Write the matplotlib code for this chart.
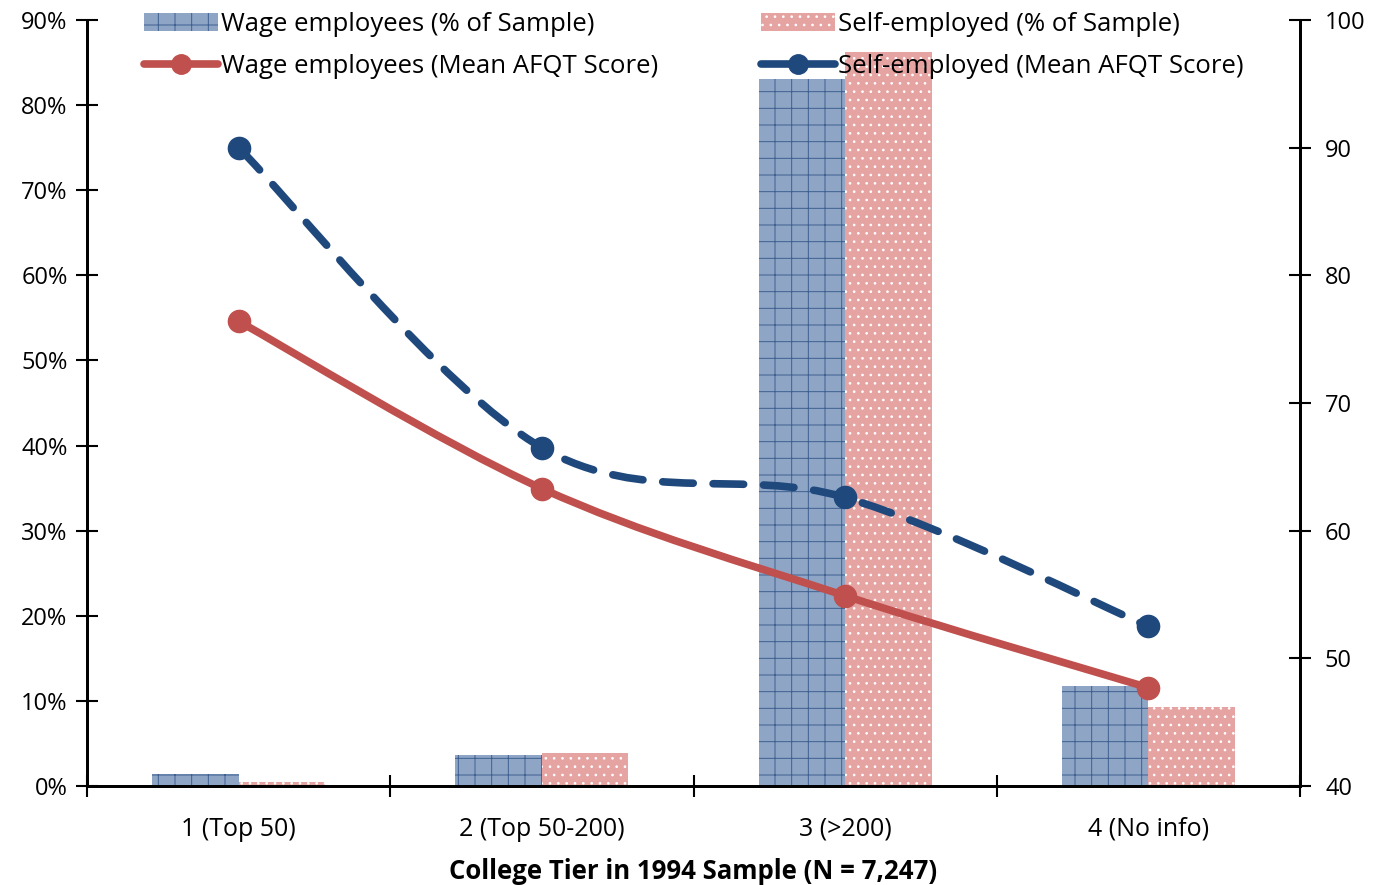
import numpy as np
import matplotlib
matplotlib.use("Agg")
import matplotlib.pyplot as plt
from matplotlib.path import Path
from matplotlib.patches import PathPatch
from matplotlib.lines import Line2D
from matplotlib.ticker import FuncFormatter

plt.rcParams['font.family'] = ['Open Sans', 'DejaVu Sans']

categories = ["1 (Top 50)", "2 (Top 50-200)", "3 (>200)", "4 (No info)"]
wage_share = [1.4, 3.6, 83.1, 11.8]
self_share = [0.5, 3.9, 86.2, 9.3]
wage_afqt = [76.4, 63.3, 54.9, 47.7]
self_afqt = [90.0, 66.5, 62.6, 52.5]

RED = "#C0504D"
BLUE = "#1F497D"
BAR_BLUE = "#8FA5C6"
BAR_PINK = "#E5A3A2"


def smooth_path(xs, ys, tension=1 / 6):
    """Catmull-Rom style smoothed curve as cubic Bezier segments."""
    pts = np.column_stack([xs, ys]).astype(float)
    n = len(pts)
    verts = [pts[0]]
    codes = [Path.MOVETO]
    for i in range(n - 1):
        p0 = pts[i - 1] if i > 0 else pts[i]
        p1 = pts[i]
        p2 = pts[i + 1]
        p3 = pts[i + 2] if i + 2 < n else pts[i + 1]
        c1 = p1 + (p2 - p0) * tension
        c2 = p2 - (p3 - p1) * tension
        verts += [c1, c2, p2]
        codes += [Path.CURVE4] * 3
    return Path(verts, codes)


fig = plt.figure(figsize=(13.73, 8.85), dpi=100)
ax = fig.add_axes([87 / 1373, 1 - 786 / 885, (1300 - 87) / 1373, (786 - 20) / 885])
ax2 = ax.twinx()

x = np.arange(len(categories))
w = 0.285
plt.rcParams['hatch.linewidth'] = 0.7
b1 = ax.bar(x - w / 2, wage_share, w, color=BAR_BLUE, edgecolor="#3D5F8F", hatch='+', linewidth=0,
            label="Wage employees (% of Sample)", zorder=2)
b2 = ax.bar(x + w / 2, self_share, w, color=BAR_PINK, edgecolor="white", hatch='..', linewidth=0,
            label="Self-employed (% of Sample)", zorder=2)

ax.set_xlim(-0.5, 3.5)
ax.set_ylim(0, 90)
ax.set_yticks(np.arange(0, 91, 10))
ax.yaxis.set_major_formatter(FuncFormatter(lambda v, p: f"{int(v)}%"))
ax.set_xticks(np.arange(-0.5, 3.6, 1.0))
ax.set_xticklabels([])
ax.set_xticks(x, minor=True)
ax.set_xticklabels(categories, minor=True, fontsize=18)
ax.tick_params(axis='x', which='minor', length=0, pad=22)
ax.tick_params(axis='x', which='major', direction='inout', length=16, width=1.5)
ax.tick_params(axis='y', direction='inout', length=16, width=1.5, labelsize=17, pad=6)

ax2.set_ylim(40, 100)
ax2.set_yticks(np.arange(40, 101, 10))
ax2.tick_params(axis='y', direction='inout', length=16, width=1.5, labelsize=17, pad=10)

for a in (ax, ax2):
    a.spines['top'].set_visible(False)
    for s in ('left', 'right', 'bottom'):
        a.spines[s].set_linewidth(2)

ax.set_xlabel("College Tier in 1994 Sample (N = 7,247)", fontsize=18.5, fontweight='bold', labelpad=12)

# smoothed AFQT lines on the secondary axis
wp = PathPatch(smooth_path(x, wage_afqt), fill=False, edgecolor=RED, lw=5.5,
               capstyle='round', joinstyle='round', zorder=3)
ax2.add_patch(wp)
sp = PathPatch(smooth_path(x, self_afqt), fill=False, edgecolor=BLUE, lw=5.5,
               linestyle=(0, (4, 2.6)), capstyle='round', joinstyle='round', zorder=3)
ax2.add_patch(sp)
ax2.plot(x, wage_afqt, 'o', color=RED, ms=16, zorder=4)
ax2.plot(x, self_afqt, 'o', color=BLUE, ms=16, zorder=4)

h_wage = Line2D([], [], color=RED, lw=5.5, marker='o', ms=14, solid_capstyle='round')
h_self = Line2D([], [], color=BLUE, lw=5.5, marker='o', ms=14, solid_capstyle='round')
handles = [b1, h_wage, b2, h_self]
labels = ["Wage employees (% of Sample)", "Wage employees (Mean AFQT Score)",
          "Self-employed (% of Sample)", "Self-employed (Mean AFQT Score)"]
leg = ax2.legend(handles, labels, ncol=2, loc='upper center', bbox_to_anchor=(0.5, 1.04),
                 frameon=False, fontsize=18.5, handlelength=2.9, handletextpad=0.1,
                 columnspacing=4.0, labelspacing=0.66)
leg.set_zorder(5)

fig.savefig("out.png", dpi=100)
